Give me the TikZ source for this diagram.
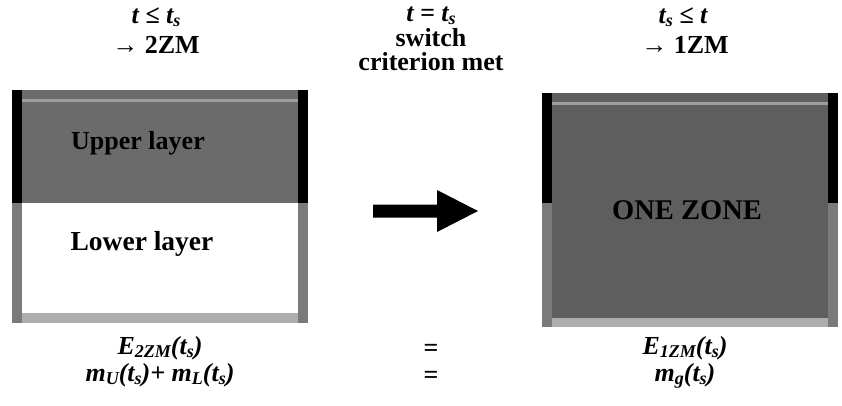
\documentclass[tikz,border=0pt]{standalone}
\usepackage{fontspec}
\setmainfont{Liberation Serif}
\newcommand{\lowsub}[1]{\raisebox{-3pt}{\fontsize{18}{18}\selectfont #1}}
\begin{document}
\begin{tikzpicture}[x=1pt,y=-1pt,
  lbl/.style={font=\fontsize{26}{28}\selectfont\bfseries, inner sep=0pt, text height=17pt, text depth=5pt},
  ilbl/.style={lbl, font=\fontsize{26}{28}\selectfont\bfseries\itshape},
  stack/.style={font=\fontsize{26}{24.5}\selectfont\bfseries, inner sep=0pt, align=center},
  blackwall/.style={fill=black},
  graywall/.style={fill=black!52},
  upperfill/.style={fill=black!58},
  zonefill/.style={fill=black!63},
  stripfill/.style={fill=black!32},
  glint/.style={fill=black!38}]
\useasboundingbox (0,0) rectangle (842,405);
% left box (two zones)
\fill[upperfill] (22,90) rectangle (298,203);
\fill[glint] (22,99) rectangle (298,101.5);
\fill[stripfill] (22,313) rectangle (298,323);
\fill[blackwall] (12,90) rectangle (22,203);
\fill[blackwall] (298,90) rectangle (308,203);
\fill[graywall] (12,203) rectangle (22,323);
\fill[graywall] (298,203) rectangle (308,323);
% right box (one zone)
\fill[zonefill] (552,93) rectangle (828,327);
\fill[glint] (552,102) rectangle (828,104.5);
\fill[stripfill] (552,318) rectangle (828,327);
\fill[blackwall] (542,93) rectangle (552,203);
\fill[blackwall] (828,93) rectangle (838,203);
\fill[graywall] (542,203) rectangle (552,327);
\fill[graywall] (828,203) rectangle (838,327);
% block arrow
\fill[black] (373,204.5) -- (437,204.5) -- (437,190) -- (478,211) -- (437,232) -- (437,217.5) -- (373,217.5) -- cycle;
% top labels
\node[lbl] (l1) at (156,17) {\itshape t ≤ t\lowsub{s}};
\node[lbl] (l2) at (156,47) {→ 2ZM};
\node[stack] (mid) at (431,39) {\itshape t = t\lowsub{s}\\switch\\criterion met};
\node[lbl] (r1) at (683,17) {\itshape t\lowsub{s} ≤ t};
\node[lbl] (r2) at (685,47) {→ 1ZM};
% box labels
\node[lbl] (up) at (138,143) {Upper layer};
\node[lbl, font=\fontsize{27.5}{29}\selectfont\bfseries] (lo) at (142,244) {Lower layer};
\node[lbl, font=\fontsize{28.5}{30}\selectfont\bfseries] (oz) at (687,213) {ONE ZONE};
% bottom labels
\node[ilbl] (e2) at (160,348) {E\lowsub{2ZM}(t\lowsub{s})};
\node[ilbl] (ms) at (160,375) {m\lowsub{U}(t\lowsub{s})+ m\lowsub{L}(t\lowsub{s})};
\node[lbl] (q1) at (431,350) {=};
\node[lbl] (q2) at (431,377) {=};
\node[ilbl] (e1) at (685,348) {E\lowsub{1ZM}(t\lowsub{s})};
\node[ilbl] (mg) at (685,375) {m\lowsub{g}(t\lowsub{s})};
\end{tikzpicture}
\end{document}
